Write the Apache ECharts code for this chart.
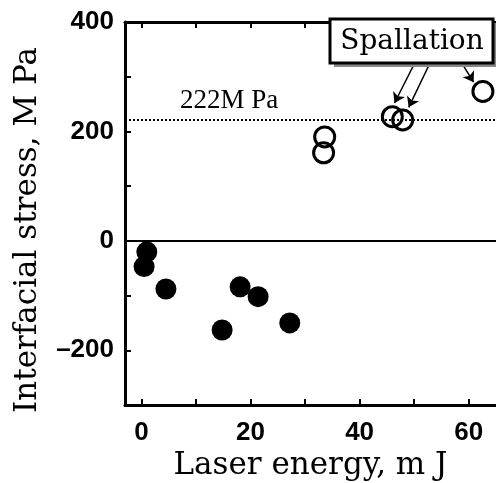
<!DOCTYPE html>
<html>
<head>
<meta charset="utf-8">
<script src="https://cdn.jsdelivr.net/npm/echarts@6/dist/echarts.min.js"></script>
<style>
  html, body { margin: 0; padding: 0; background: #fff; }
  #chart { width: 496px; height: 483px; }
</style>
</head>
<body>
<div id="chart"></div>
<script>
// measured values (laser energy in mJ, interfacial stress in MPa)
const intactEnergy = [0.5, 1.0, 4.5, 14.8, 18.1, 21.4, 27.2];
const intactStress = [-47, -20, -88, -163, -84, -102, -150];
const spallEnergy = [33.6, 33.4, 46.0, 47.9, 62.6];
const spallStress = [190, 161, 227, 221, 273];
const thresholdStress = 222;
const xTicks = [0, 10, 20, 30, 40, 50, 60];
const xLabels = [0, 20, 40, 60];
const yLabels = [400, 200, 0, -200];

const serif = 'DejaVu Serif';
const tickFont = { fontFamily: 'Liberation Sans', fontWeight: 'bold', fontSize: 26, color: '#000' };

function pairs(xs, ys) {
    return xs.map((x, i) => [x, ys[i]]);
}

const chart = echarts.init(document.getElementById('chart'));

const option = {
    animation: false,
    backgroundColor: '#fff',
    grid: { left: 125, top: 22, right: 0, bottom: 78, outerBoundsMode: 'none' },
    xAxis: [{
        type: 'value',
        position: 'bottom',
        min: -3,
        max: 65,
        name: 'Laser energy, m J',
        nameLocation: 'middle',
        nameGap: 40,
        nameTextStyle: { fontFamily: serif, fontSize: 31, color: '#000' },
        axisLine: { show: true, onZero: false, lineStyle: { color: '#000', width: 3 } },
        axisTick: { show: true, inside: true, length: 6, lineStyle: { color: '#000', width: 2 }, customValues: xTicks },
        axisLabel: Object.assign({ margin: 15, customValues: xLabels }, tickFont),
        splitLine: { show: false }
    }, {
        type: 'value',
        position: 'top',
        min: -3,
        max: 65,
        axisLine: { show: true, onZero: false, lineStyle: { color: '#000', width: 3 } },
        axisTick: { show: true, inside: true, length: 6, lineStyle: { color: '#000', width: 2 }, customValues: xTicks },
        axisLabel: { show: false },
        splitLine: { show: false }
    }],
    yAxis: {
        type: 'value',
        min: -300,
        max: 400,
        interval: 100,
        axisLine: { show: true, onZero: false, lineStyle: { color: '#000', width: 3 } },
        axisTick: { show: true, inside: true, length: 6, lineStyle: { color: '#000', width: 2 } },
        axisLabel: Object.assign({
            margin: 11,
            formatter: v => yLabels.includes(v) ? String(v).replace('-', '\u2013') : ''
        }, tickFont),
        splitLine: { show: false }
    },
    series: [{
        type: 'scatter',
        name: 'intact',
        data: pairs(intactEnergy, intactStress),
        symbolSize: 21,
        itemStyle: { color: '#000', opacity: 1 },
        z: 3,
        markLine: {
            silent: true,
            symbol: 'none',
            label: { show: false },
            data: [
                { yAxis: 0, lineStyle: { color: '#000', width: 2, type: 'solid' } },
                { yAxis: thresholdStress, lineStyle: { color: '#000', width: 2, type: [2, 2] } }
            ]
        }
    }, {
        type: 'scatter',
        name: 'spalled',
        data: pairs(spallEnergy, spallStress),
        symbolSize: 20,
        itemStyle: { color: 'rgba(0,0,0,0)', borderColor: '#000', borderWidth: 3, opacity: 1 },
        z: 3,
        markLine: {
            silent: true,
            symbol: ['none', 'arrow'],
            symbolSize: 10,
            label: { show: false },
            lineStyle: { color: '#000', width: 1.5, type: 'solid', opacity: 1 },
            itemStyle: { color: '#000' },
            data: [
                [{ coord: [50.1, 325] }, { coord: [46.4, 252] }],
                [{ coord: [52.9, 325] }, { coord: [49.0, 244] }],
                [{ coord: [58.9, 322] }, { coord: [60.9, 290] }]
            ]
        }
    }],
    graphic: [{
        type: 'text',
        x: 28,
        y: 230,
        rotation: Math.PI / 2,
        style: {
            text: 'Interfacial stress, M Pa',
            font: '31px "DejaVu Serif"',
            fill: '#000',
            align: 'center',
            verticalAlign: 'middle'
        }
    }, {
        type: 'text',
        x: 180,
        y: 114,
        style: {
            text: '222M Pa',
            font: '27px "Liberation Serif"',
            fill: '#000',
            align: 'left',
            verticalAlign: 'bottom'
        },
        z: 10
    }, {
        type: 'rect',
        shape: { x: 334, y: 23, width: 163, height: 44 },
        style: { fill: '#888' },
        z: 20
    }, {
        type: 'rect',
        shape: { x: 330, y: 19, width: 163, height: 44 },
        style: { fill: '#fff', stroke: '#000', lineWidth: 3 },
        z: 21
    }, {
        type: 'text',
        x: 412,
        y: 42,
        style: {
            text: 'Spallation',
            font: '28px "DejaVu Serif"',
            fill: '#000',
            align: 'center',
            verticalAlign: 'middle'
        },
        z: 22
    }]
};

chart.setOption(option);
</script>
</body>
</html>
